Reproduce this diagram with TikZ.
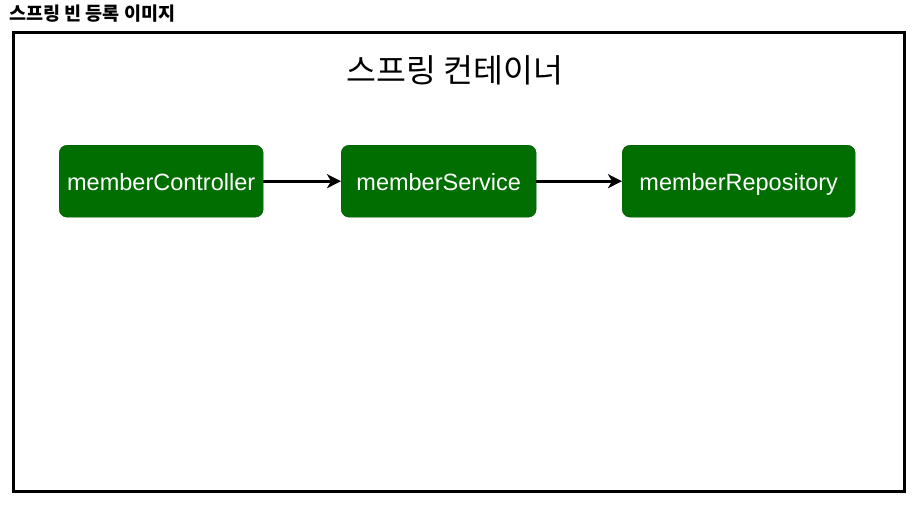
\documentclass[tikz,border=0pt]{standalone}
\usepackage{fontspec}
\setmainfont{Liberation Sans}
\newfontfamily\kr{Noto Sans CJK KR}
\usetikzlibrary{arrows.meta}
\definecolor{beangreen}{HTML}{006E00}
\begin{document}
\begin{tikzpicture}[x=1pt,y=-1pt,
  bean/.style={fill=beangreen, draw=beangreen!80!black, line width=0.4pt, rounded corners=8pt,
    text=white, font=\fontsize{23.5}{26}\selectfont, inner sep=0pt, text height=20pt, text depth=2pt, anchor=north west},
  link/.style={line width=3pt, -{Stealth[length=14pt,width=14pt,inset=4pt]}}]
\useasboundingbox (0,0) rectangle (923,511);
\node[anchor=north west, inner sep=0pt, font=\kr\bfseries\fontsize{18.5}{20}\selectfont] (title) at (9,5) {스프링 빈 등록 이미지};
\node[draw, line width=3pt, minimum width=891pt, minimum height=459pt, anchor=north west, inner sep=0pt] (container) at (12,31) {};
\node[font=\kr\fontsize{32.5}{36}\selectfont, inner sep=0pt] (ctitle) at (455,70) {스프링 컨테이너};
\node[bean, minimum width=204pt, minimum height=72pt] (ctrl) at (59,145) {memberController};
\node[bean, minimum width=195pt, minimum height=72pt] (svc) at (341,145) {memberService};
\node[bean, minimum width=233pt, minimum height=72pt] (repo) at (622,145) {memberRepository};
\draw[link] (ctrl) -- (svc);
\draw[link] (svc) -- (repo);
\end{tikzpicture}
\end{document}
